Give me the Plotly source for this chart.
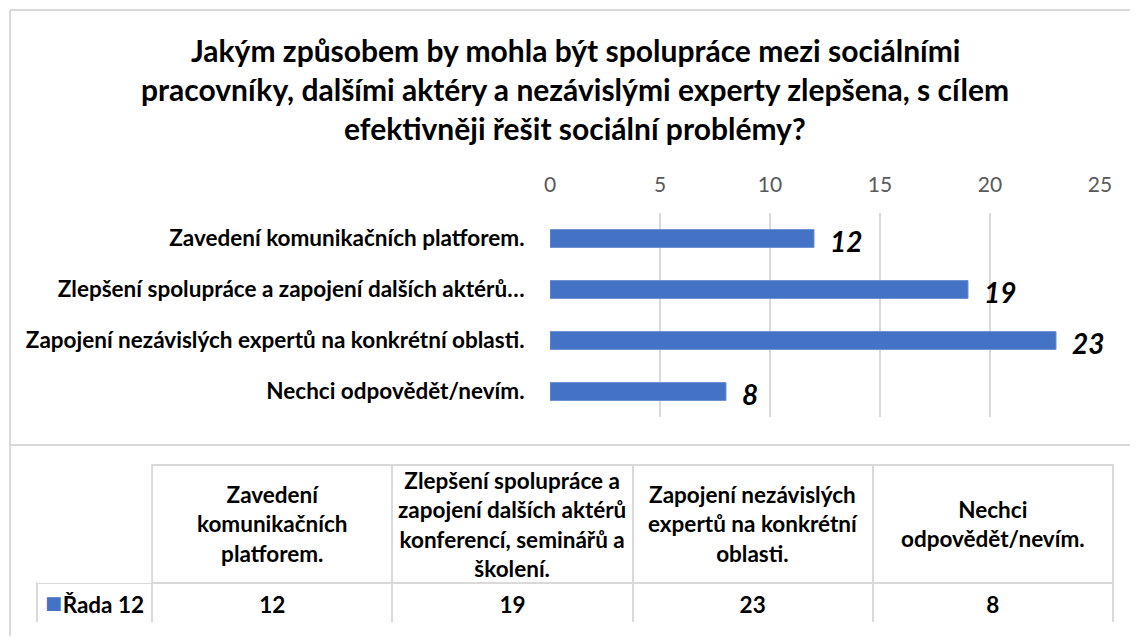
import plotly.graph_objects as go

# --- data -------------------------------------------------------------
categories = [
    "Zavedení komunikačních platforem.",
    "Zlepšení spolupráce a zapojení dalších aktérů konferencí, seminářů a školení.",
    "Zapojení nezávislých expertů na konkrétní oblasti.",
    "Nechci odpovědět/nevím.",
]
axis_labels = [
    "Zavedení komunikačních platforem.",
    "Zlepšení spolupráce a zapojení dalších aktérů…",
    "Zapojení nezávislých expertů na konkrétní oblasti.",
    "Nechci odpovědět/nevím.",
]
table_headers = [
    "Zavedení<br>komunikačních<br>platforem.",
    "Zlepšení spolupráce a<br>zapojení dalších aktérů<br>konferencí, seminářů a<br>školení.",
    "Zapojení nezávislých<br>expertů na konkrétní<br>oblasti.",
    "Nechci<br>odpovědět/nevím.",
]
values = [12, 19, 23, 8]
series_name = "Řada 12"
title_lines = [
    "Jakým způsobem by mohla být spolupráce mezi sociálními",
    "pracovníky, dalšími aktéry a nezávislými experty zlepšena, s cílem",
    "efektivněji řešit sociální problémy?",
]

PAGE_MARGIN = 8  # default <body> margin of the html page
W, H = 1138 - 2 * PAGE_MARGIN, 644 - 2 * PAGE_MARGIN
BLUE = "#4472C4"
GRID = "#d9d9d9"
FONT = "Lato"


# page pixel -> paper fraction
def px_x(x):
    return (x - PAGE_MARGIN) / W


def px_y(y):
    return 1 - (y - PAGE_MARGIN) / H


fig = go.Figure()

fig.add_trace(
    go.Bar(
        y=categories,
        x=values,
        orientation="h",
        width=0.35,
        marker=dict(color=BLUE, line=dict(color="#6a8fd3", width=1)),
        name=series_name,
        showlegend=False,
        hoverinfo="x+y",
    )
)

# data labels, bold italic, just right of each bar end
for cat, val in zip(categories, values):
    fig.add_annotation(
        x=val, y=cat, xref="x", yref="y",
        text=f"<b><i>{val}</i></b>",
        showarrow=False, xanchor="left", yanchor="middle",
        xshift=14, yshift=-2,
        font=dict(family=FONT, size=28, color="black"),
    )

# data table under the chart
col_widths = [115, 240, 240, 240, 240]
tbl_x0, tbl_x1 = 37, 1113
tbl_y0, tbl_y1 = 465, 622
header_h, row_h = 118, 38
TFONT = 22.5

fig.add_trace(
    go.Table(
        domain=dict(x=[px_x(tbl_x0), px_x(tbl_x1)], y=[px_y(tbl_y1), px_y(tbl_y0)]),
        columnwidth=col_widths,
        header=dict(
            values=[""] * 5,
            height=header_h,
            line=dict(color=["rgba(0,0,0,0)"] + [GRID] * 4, width=2),
            fill=dict(color="white"),
        ),
        cells=dict(
            values=[[f"<b>{series_name}</b>"]] + [[f"<b>{v}</b>"] for v in values],
            height=row_h,
            align=["right"] + ["center"] * 4,
            line=dict(color=GRID, width=2),
            fill=dict(color="white"),
            font=dict(family=FONT, size=TFONT, color="black"),
        ),
    )
)

# column positions of the table, from its domain and relative widths
total_w = sum(col_widths)
scale = (tbl_x1 - tbl_x0) / total_w
edges = [tbl_x0]
for w in col_widths:
    edges.append(edges[-1] + w * scale)

# legend key of the series in the row header
fig.add_annotation(
    x=px_x(edges[0] + 6), y=px_y(tbl_y0 + header_h + row_h / 2),
    xref="paper", yref="paper", text="■", showarrow=False,
    xanchor="left", yanchor="middle",
    font=dict(family="DejaVu Sans", size=18, color=BLUE),
)

# header texts, vertically centred in their cells
for i, label in enumerate(table_headers, start=1):
    cx = (edges[i] + edges[i + 1]) / 2
    fig.add_annotation(
        x=px_x(cx), y=px_y(tbl_y0 + header_h / 2), xref="paper", yref="paper",
        text=f"<b>{label}</b>", showarrow=False,
        xanchor="center", yanchor="middle", align="center",
        font=dict(family=FONT, size=TFONT, color="black"),
    )

# title, one annotation per line to keep Excel-like line spacing
for i, line in enumerate(title_lines):
    fig.add_annotation(
        x=px_x(575), y=px_y(50 + 39 * i), xref="paper", yref="paper",
        text=f"<b>{line}</b>", showarrow=False,
        xanchor="center", yanchor="middle",
        font=dict(family=FONT, size=30, color="black"),
    )

# chart frame lines (open on the right, as in the cropped original)
frame = dict(color=GRID, width=2)
fig.add_shape(type="line", xref="paper", yref="paper",
              x0=px_x(10), x1=1, y0=px_y(10), y1=px_y(10), line=frame)
fig.add_shape(type="line", xref="paper", yref="paper",
              x0=px_x(10), x1=px_x(10), y0=px_y(10), y1=0, line=frame)
fig.add_shape(type="line", xref="paper", yref="paper",
              x0=px_x(10), x1=1, y0=px_y(445), y1=px_y(445), line=frame)

fig.update_layout(
    width=W,
    height=H,
    autosize=False,
    margin=dict(l=0, r=0, t=0, b=0),
    paper_bgcolor="white",
    plot_bgcolor="white",
    font=dict(family=FONT, color="black"),
    xaxis=dict(
        domain=[px_x(550), px_x(1100)],
        range=[0, 25],
        dtick=5,
        side="top",
        automargin=False,
        showgrid=True,
        gridcolor=GRID,
        gridwidth=2,
        zeroline=False,
        showline=False,
        ticks="outside",
        ticklen=12,
        tickcolor="rgba(0,0,0,0)",
        tickfont=dict(family=FONT, size=21, color="#595959"),
    ),
    yaxis=dict(
        domain=[px_y(417), px_y(213)],
        autorange="reversed",
        automargin=False,
        tickmode="array",
        tickvals=categories,
        ticktext=[f"<b>{t}</b>" for t in axis_labels],
        showgrid=False,
        zeroline=False,
        showline=False,
        ticks="outside",
        ticklen=20,
        tickcolor="rgba(0,0,0,0)",
        tickfont=dict(family=FONT, size=22.5, color="black"),
    ),
)

fig.write_html("out.html")
